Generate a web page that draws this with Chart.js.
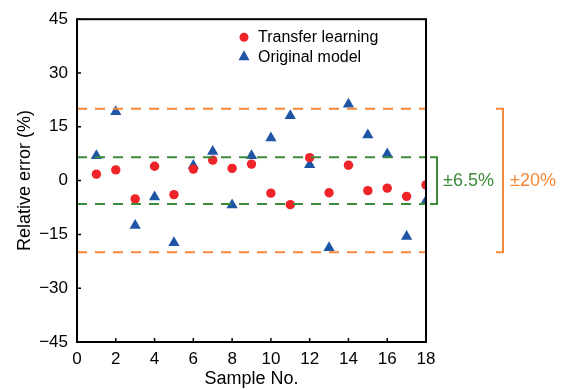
<!DOCTYPE html>
<html lang="en">

<head>
    <meta charset="UTF-8">
    <title>Relative error</title>
    <script src="https://cdn.jsdelivr.net/npm/chart.js@4"></script>
    <style>
        html, body { margin: 0; padding: 0; background: #fff; }
        #box { width: 563px; height: 390px; }
    </style>
</head>

<body>
    <div id="box"><canvas id="grafico"></canvas></div>
</body>

</html>

<script>
    // data
    const amostras = [1, 2, 3, 4, 5, 6, 7, 8, 9, 10, 11, 12, 13, 14, 15, 16, 17, 18]
    const transferLearning = [1.8, 3.0, -5.1, 4.0, -3.9, 3.2, 5.7, 3.4, 4.6, -3.5, -6.7, 6.4, -3.4, 4.3, -2.8, -2.1, -4.4, -1.2]
    const originalModel = [6.9, 19.2, -12.5, -4.6, -17.3, 4.2, 8.1, -6.8, 6.9, 11.9, 18.1, 4.4, -18.7, 21.3, 12.7, 7.4, -15.6, -5.7]
    const limiteVerde = 6.5
    const limiteLaranja = 20
    const xTicks = [0, 2, 4, 6, 8, 10, 12, 14, 16, 18]
    const yTicks = [-45, -30, -15, 0, 15, 30, 45]

    const VERMELHO = '#ee2428'
    const AZUL = '#1f55a5'
    const VERDE = '#3b8b3b'
    const LARANJA = '#f58838'
    const FONTE = 'Liberation Sans, Arial, sans-serif'

    function pares(valores) {
        return amostras.map((s, i) => ({ x: s, y: valores[i] }))
    }

    function linha(v, cor) {
        return {
            type: 'line',
            data: [{ x: 0, y: v }, { x: 18, y: v }],
            borderColor: cor,
            borderWidth: 2,
            borderDash: [10, 8],
            pointRadius: 0,
            fill: false
        }
    }

    const moldura = {
        id: 'moldura',
        afterDraw(chart) {
            const ctx = chart.ctx
            const a = chart.chartArea
            const sx = chart.scales.x
            const sy = chart.scales.y
            ctx.save()
            ctx.strokeStyle = '#000'
            ctx.lineWidth = 2
            ctx.strokeRect(a.left, a.top, a.right - a.left, a.bottom - a.top)
            ctx.lineWidth = 1.5
            ctx.beginPath()
            xTicks.forEach(t => {
                const px = sx.getPixelForValue(t)
                ctx.moveTo(px, a.bottom)
                ctx.lineTo(px, a.bottom - 4)
            })
            yTicks.forEach(t => {
                const py = sy.getPixelForValue(t)
                ctx.moveTo(a.left, py)
                ctx.lineTo(a.left + 4, py)
            })
            ctx.stroke()

            // brackets on the right
            function colchete(v, x, cor, texto, tx) {
                const y1 = sy.getPixelForValue(v)
                const y2 = sy.getPixelForValue(-v)
                ctx.strokeStyle = cor
                ctx.lineWidth = 2
                ctx.beginPath()
                ctx.moveTo(x - 7, y1)
                ctx.lineTo(x, y1)
                ctx.lineTo(x, y2)
                ctx.lineTo(x - 7, y2)
                ctx.stroke()
                ctx.fillStyle = cor
                ctx.font = '18px ' + FONTE
                ctx.textAlign = 'left'
                ctx.textBaseline = 'middle'
                ctx.fillText(texto, tx, sy.getPixelForValue(0))
            }
            colchete(limiteVerde, a.right + 11, VERDE, '±6.5%', a.right + 17)
            colchete(limiteLaranja, a.right + 77, LARANJA, '±20%', a.right + 84)

            // legend inside the plot
            const lx = a.left + 167
            ctx.fillStyle = VERMELHO
            ctx.beginPath()
            ctx.arc(lx, a.top + 18, 4.5, 0, Math.PI * 2)
            ctx.fill()
            ctx.fillStyle = AZUL
            ctx.beginPath()
            ctx.moveTo(lx, a.top + 31)
            ctx.lineTo(lx + 5.5, a.top + 41)
            ctx.lineTo(lx - 5.5, a.top + 41)
            ctx.closePath()
            ctx.fill()
            ctx.fillStyle = '#000'
            ctx.font = '16px ' + FONTE
            ctx.textAlign = 'left'
            ctx.textBaseline = 'middle'
            ctx.fillText('Transfer learning', lx + 14, a.top + 18)
            ctx.fillText('Original model', lx + 14, a.top + 38)
            ctx.restore()
        }
    }

    const ctx = document.getElementById('grafico')

    new Chart(ctx, {
        type: 'scatter',
        data: {
            datasets: [
                linha(limiteLaranja, LARANJA),
                linha(-limiteLaranja, LARANJA),
                linha(limiteVerde, VERDE),
                linha(-limiteVerde, VERDE),
                {
                    label: 'Transfer learning',
                    data: pares(transferLearning),
                    pointStyle: 'circle',
                    pointRadius: 4.7,
                    backgroundColor: VERMELHO,
                    borderColor: VERMELHO,
                    borderWidth: 0
                },
                {
                    label: 'Original model',
                    data: pares(originalModel),
                    pointStyle: 'triangle',
                    pointRadius: 6.5,
                    backgroundColor: AZUL,
                    borderColor: AZUL,
                    borderWidth: 0
                }
            ]
        },
        options: {
            responsive: true,
            maintainAspectRatio: false,
            animation: false,
            layout: { padding: { left: 0, right: 137, top: 18, bottom: 0 } },
            plugins: {
                legend: { display: false },
                tooltip: { enabled: false }
            },
            scales: {
                x: {
                    type: 'linear',
                    min: 0,
                    max: 18,
                    grid: { display: false, drawTicks: false },
                    border: { display: false },
                    afterFit(s) { s.height = 48 },
                    afterBuildTicks(s) { s.ticks = xTicks.map(v => ({ value: v })) },
                    ticks: {
                        color: '#000',
                        padding: 7,
                        maxRotation: 0,
                        font: { family: FONTE, size: 17 }
                    },
                    title: {
                        display: true,
                        text: 'Sample No.',
                        color: '#000',
                        padding: { top: 0, bottom: 0 },
                        font: { family: FONTE, size: 18 }
                    }
                },
                y: {
                    min: -45,
                    max: 45,
                    grid: { display: false, drawTicks: false },
                    border: { display: false },
                    afterFit(s) { s.width = 77 },
                    afterBuildTicks(s) { s.ticks = yTicks.map(v => ({ value: v })) },
                    ticks: {
                        color: '#000',
                        padding: 9,
                        font: { family: FONTE, size: 17 },
                        callback: v => v < 0 ? '\u2212' + Math.abs(v) : '' + v
                    },
                    title: {
                        display: true,
                        text: 'Relative error (%)',
                        color: '#000',
                        padding: { top: 14, bottom: 0 },
                        font: { family: FONTE, size: 18 }
                    }
                }
            }
        },
        plugins: [moldura]
    })
</script>
